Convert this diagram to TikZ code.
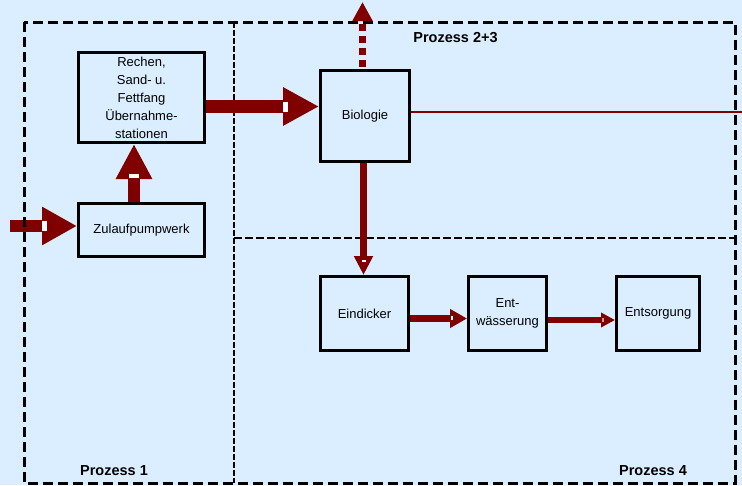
\documentclass[tikz,border=0pt]{standalone}
\usepackage{fontspec}
\setmainfont{Liberation Sans}
\usetikzlibrary{arrows.meta}
\definecolor{bg}{RGB}{219,238,255}
\definecolor{dred}{RGB}{128,0,0}
\begin{document}
\begin{tikzpicture}[x=1pt,y=-1pt,
  box/.style={draw=black, line width=3pt, fill=bg, inner sep=0pt, align=center,
    font=\fontsize{13}{18}\selectfont},
  lbl/.style={font=\bfseries\fontsize{14.5}{17}\selectfont, inner sep=0pt},
  barrow/.style={draw=dred, line cap=butt},
  notch/.style={fill=white, draw=none},
  outerframe/.style={line width=3pt, dash pattern=on 10pt off 5pt},
  vdiv/.style={line width=2pt, dash pattern=on 6pt off 2pt},
  hdiv/.style={line width=2.5pt, dash pattern=on 8pt off 3pt}
]
\useasboundingbox (0,0) rectangle (742,485);
\fill[bg] (0,0) rectangle (742,485);

% frames
\draw[vdiv] (234,22) -- (234,483);
\draw[hdiv] (234,238) -- (735,238);

% boxes
\node[box, minimum width=126pt, minimum height=90pt] (rech) at (141.5,97.5)
  {Rechen,\\Sand- u.\\Fettfang\\Übernahme-\\stationen};
\node[box, minimum width=126pt, minimum height=53pt] (zul) at (141.5,230) {Zulaufpumpwerk};
\node[box, minimum width=89pt, minimum height=91pt] (bio) at (365,116) {Biologie};
\node[box, minimum width=88pt, minimum height=74pt] (eind) at (364.5,313.5) {Eindicker};
\node[box, minimum width=78pt, minimum height=74pt] (entw) at (507.5,313.5) {Ent-\\wässerung};
\node[box, minimum width=83pt, minimum height=74pt] (ents) at (658,313.5) {Entsorgung};

% labels
\node[lbl] (p23) at (455.5,38) {Prozess 2+3};
\node[lbl] (p1) at (114,471) {Prozess 1};
\node[lbl] (p4) at (653,471) {Prozess 4};

% helper coordinates
\coordinate (in) at (10,226);
\coordinate (ua) at (134,0);
\coordinate (rb) at (0,106.5);
\coordinate (top) at (362.5,2);
\coordinate (rt) at (750,112);
\coordinate (dn) at (363.5,0);
\coordinate (ew) at (0,318.5);
\coordinate (ws) at (0,320);

% arrows
\draw[barrow, line width=12pt, -{Triangle[length=35pt,width=36pt]}] (in) -- (in -| zul.west);
\draw[barrow, line width=12pt, -{Triangle[length=35pt,width=34pt]}] (zul.north -| ua) -- (rech.south -| ua);
\draw[barrow, line width=13pt, -{Triangle[length=36pt,width=36pt]}] (rech.east |- rb) -- (bio.west |- rb);
\draw[barrow, line width=7pt, dash pattern=on 7pt off 5pt, dash phase=10pt,
  -{Triangle[length=19pt,width=19pt]}] (bio.north -| top) -- (top);
\draw[barrow, line width=2pt, -{Triangle[length=6pt,width=6pt]}] (bio.east |- rt) -- (rt);
\draw[barrow, line width=7pt, -{Triangle[length=19pt,width=18pt]}] (bio.south -| dn) -- (eind.north -| dn);
\draw[barrow, line width=7pt, -{Triangle[length=17pt,width=18pt]}] (eind.east |- ew) -- (entw.west |- ew);
\draw[barrow, line width=6pt, -{Triangle[length=14pt,width=14pt]}] (entw.east |- ws) -- (ents.west |- ws);

% notches
\fill[notch] (42,221) rectangle (47,231);
\fill[notch] (129,173.5) rectangle (139,178);
\fill[notch] (283,101.5) rectangle (287.5,111.5);
\fill[notch] (361.7,260) rectangle (366,262);
\fill[notch] (450.7,316) rectangle (452.7,320);
\fill[notch, opacity=0.6] (601.7,318) rectangle (603.5,322);

% outer frame on top
\draw[outerframe] (24,22) rectangle (735,483);
\end{tikzpicture}
\end{document}
